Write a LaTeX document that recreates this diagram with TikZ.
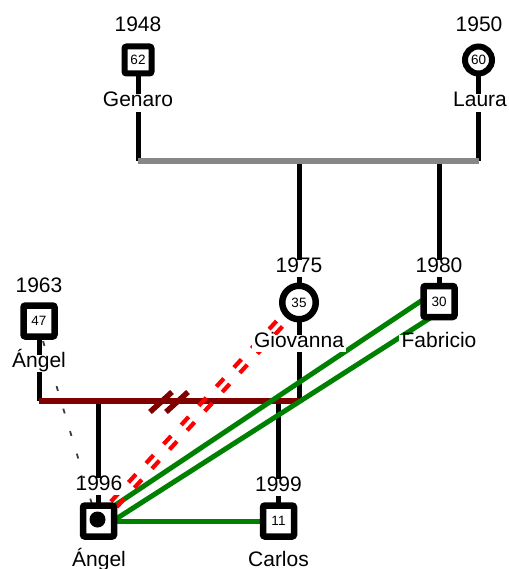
\documentclass[tikz,border=0pt]{standalone}
\usepackage{fontspec}
\setmainfont{Liberation Sans}
\usetikzlibrary{calc}
\pgfdeclarelayer{background}
\pgfsetlayers{background,main}
\definecolor{kinblack}{HTML}{000000}
\definecolor{bargray}{HTML}{878787}
\definecolor{bondred}{HTML}{800000}
\definecolor{closegreen}{HTML}{008000}
\definecolor{hostred}{HTML}{FF0000}
\definecolor{linkgray}{HTML}{3C3C3C}
\tikzset{
  lbl/.style={fill=white, inner sep=2.5pt, anchor=base, text height=1em, text depth=0.225em,
              font=\fontsize{21}{25}\selectfont},
  male/.style={draw, line width=6.5pt, rounded corners=2pt, fill=white, minimum size=31pt,
               inner sep=0pt, font=\fontsize{13.5}{16}\selectfont},
  female/.style={circle, draw, line width=6.5pt, fill=white, minimum size=33.5pt,
                 inner sep=0pt, font=\fontsize{13.5}{16}\selectfont},
  topgen/.style={line width=6pt, minimum size=27pt},
  kinline/.style={draw=kinblack, line width=5pt},
  sibbar/.style={draw=bargray, line width=6pt},
  bondline/.style={draw=bondred, line width=5.5pt},
  closeline/.style={draw=closegreen, line width=5pt},
  hostline/.style={draw=hostred, line width=4.2pt, dash pattern=on 11pt off 15pt, dash phase=3.3pt},
  linkline/.style={draw=linkgray, line width=1.8pt, dash pattern=on 5pt off 18.5pt, dash phase=2.5pt}
}
\begin{document}
\begin{tikzpicture}[x=1pt,y=-1pt]
\useasboundingbox (0,0) rectangle (508,569);

% person symbols
\node[male, topgen] (genaro) at (138,60) {62};
\node[female, topgen] (laura) at (478.5,60) {60};
\node[female] (giovanna) at (299,302.5) {35};
\node[male] (fabricio) at (439,301.5) {30};
\node[male] (angelA) at (39,321) {47};
\node[male] (angelB) at (98.5,521) {};
\node[male] (carlos) at (278.5,521) {11};
\fill ($(angelB.center)+(-1,-1.5)$) circle (8pt);

% years and names
\node[lbl] (yGenaro) at (138,32) {1948};
\node[lbl] (nGenaro) at (138,107) {Genaro};
\node[lbl] (yLaura) at (479,32) {1950};
\node[lbl] (nLaura) at (480,107) {Laura};
\node[lbl] (yGiovanna) at (299,272) {1975};
\node[lbl] (nGiovanna) at (299,347) {Giovanna};
\node[lbl] (yFabricio) at (439,272) {1980};
\node[lbl] (nFabricio) at (439,347) {Fabricio};
\node[lbl] (yAngelA) at (39,292) {1963};
\node[lbl] (nAngelA) at (39,367) {Ángel};
\node[lbl] (yAngelB) at (99,490) {1996};
\node[lbl] (nAngelB) at (99,566) {Ángel};
\node[lbl] (yCarlos) at (278.5,491) {1999};
\node[lbl] (nCarlos) at (278.5,566) {Carlos};

% bar levels
\coordinate (topbar) at (138,161);
\coordinate (topbarR) at (478.5,161);
\coordinate (lowbar) at (39,401);
\coordinate (lowbarR) at (299,401);
\coordinate (cut) at (169,401);

\begin{pgfonlayer}{background}
% descent lines
\draw[kinline] (genaro.center) -- (genaro |- topbar);
\draw[kinline] (laura.center) -- (laura |- topbar);
\draw[kinline] (giovanna |- topbar) -- (giovanna |- lowbar);
\draw[kinline] (fabricio |- topbar) -- (fabricio.center);
\draw[kinline] (angelA.center) -- (angelA |- lowbar);
\draw[kinline] (angelB |- lowbar) -- (angelB.center);
\draw[kinline] (carlos |- lowbar) -- (carlos.center);

% couple bars
\draw[sibbar] (topbar) -- (topbarR);
\draw[bondline] (lowbar) -- (lowbarR);
% separation mark
\draw[bondline] ($(cut)+(-19,11)$) -- ($(cut)+(3,-9)$);
\draw[bondline] ($(cut)+(-3,11)$) -- ($(cut)+(19,-9)$);

% thin dashed link between the two Ángel
\draw[linkline] ($(angelA.center)+(-2,0)$) -- ($(angelB.center)+(-1.5,0)$);

% close relationships
\draw[closeline] (angelB.center) -- (carlos.center);
\draw[closeline] ($(angelB.center)+(14.3,-14.2)$) -- ($(fabricio.center)+(-13.8,-3.3)$);
\draw[closeline] ($(angelB.center)+(16.3,-1.3)$) -- ($(fabricio.center)+(-7.8,15.8)$);

% hostile relationship (double dashed)
\draw[hostline] ($(angelB.center)!4pt!90:(giovanna.center)$) -- ($(giovanna.center)!4pt!-90:(angelB.center)$);
\draw[hostline] ($(angelB.center)!4pt!-90:(giovanna.center)$) -- ($(giovanna.center)!4pt!90:(angelB.center)$);
\end{pgfonlayer}
\end{tikzpicture}
\end{document}
